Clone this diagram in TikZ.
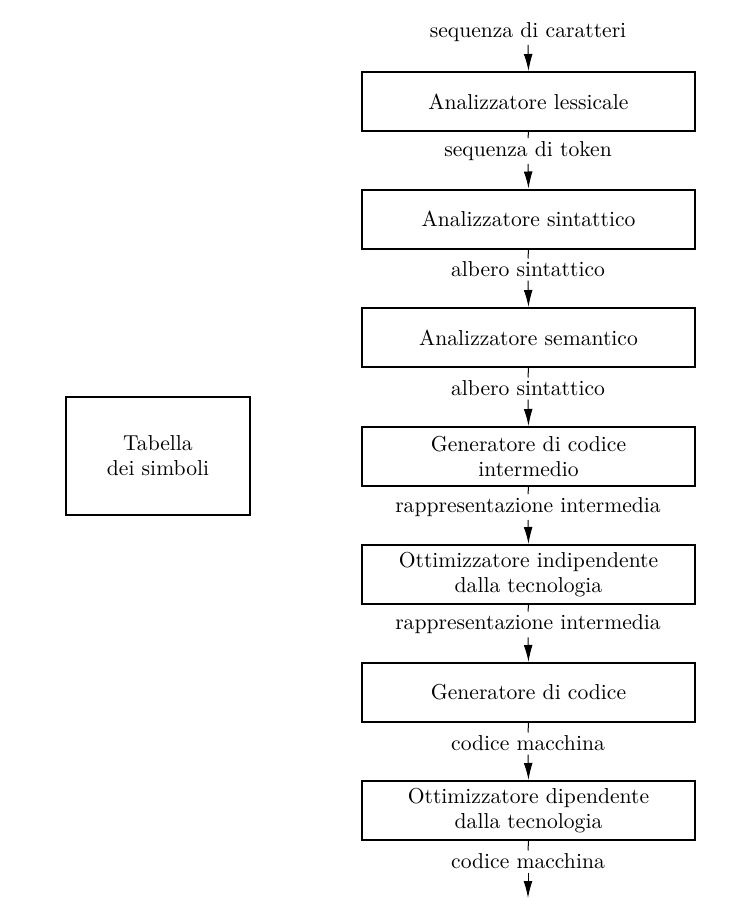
\documentclass[tikz,border=0pt]{standalone}
\usetikzlibrary{arrows.meta}
\begin{document}
\begin{tikzpicture}[x=0.5pt,y=-0.5pt,
  every node/.style={font=\fontsize{10.8}{12.6}\selectfont},
  phase/.style={draw,line width=1pt,minimum width=166.5pt,minimum height=29.5pt,align=center,inner sep=0pt},
  lab/.style={inner sep=1.5pt},
  conn/.style={line width=0.5pt},
  arr/.style={line width=0.5pt,-{Latex[length=8.5pt,width=4.4pt]}}]
\useasboundingbox (0,0) rectangle (752,904);
\node[phase] (b1) at (528.5,101.5) {Analizzatore lessicale};
\node[phase] (b2) at (528.5,219) {Analizzatore sintattico};
\node[phase] (b3) at (528.5,337.5) {Analizzatore semantico};
\node[phase] (b4) at (528.5,456.5) {Generatore di codice\\intermedio};
\node[phase] (b5) at (528.5,574.5) {Ottimizzatore indipendente\\dalla tecnologia};
\node[phase] (b6) at (528.5,692.5) {Generatore di codice};
\node[phase] (b7) at (528.5,810.5) {Ottimizzatore dipendente\\dalla tecnologia};
\node[draw,line width=1pt,minimum width=92pt,minimum height=59pt,align=center,inner sep=0pt] (tab) at (158,456) {Tabella\\dei simboli};
\node[lab] (l0) at (528,32) {sequenza di caratteri};
\node[lab] (l1) at (528,151) {sequenza di token};
\node[lab] (l2) at (528,269.5) {albero sintattico};
\node[lab] (l3) at (528,388.5) {albero sintattico};
\node[lab] (l4) at (528,507) {rappresentazione intermedia};
\node[lab] (l5) at (528,624.5) {rappresentazione intermedia};
\node[lab] (l6) at (528,743.5) {codice macchina};
\node[lab] (l7) at (528,861.5) {codice macchina};
\coordinate (end) at (528,898);
\draw[arr] (l0.south) -- (b1.north);
\draw[conn] (b1.south) -- (l1.north);
\draw[arr] (l1.south) -- (b2.north);
\draw[conn] (b2.south) -- (l2.north);
\draw[arr] (l2.south) -- (b3.north);
\draw[conn] (b3.south) -- (l3.north);
\draw[arr] (l3.south) -- (b4.north);
\draw[conn] (b4.south) -- (l4.north);
\draw[arr] (l4.south) -- (b5.north);
\draw[conn] (b5.south) -- (l5.north);
\draw[arr] (l5.south) -- (b6.north);
\draw[conn] (b6.south) -- (l6.north);
\draw[arr] (l6.south) -- (b7.north);
\draw[conn] (b7.south) -- (l7.north);
\draw[arr] (l7.south) -- (end);
\end{tikzpicture}
\end{document}
